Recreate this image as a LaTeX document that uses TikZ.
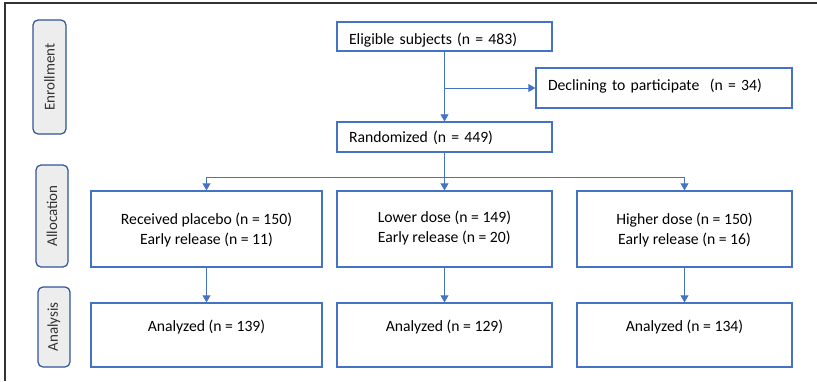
\documentclass[tikz,border=0pt]{standalone}
\usepackage{fontspec}
\setmainfont{Carlito}
\usetikzlibrary{arrows.meta,positioning}
\definecolor{boxblue}{HTML}{4472C4}
\definecolor{tagblue}{HTML}{2F5597}
\definecolor{tagfill}{HTML}{EDEDED}

\begin{document}
\begin{tikzpicture}[x=1pt,y=-1pt,
	box/.style={draw=boxblue,line width=1.3pt,inner sep=0pt,font=\fontsize{15.7}{20}\selectfont},
	tag/.style={draw=tagblue,fill=tagfill,line width=1.2pt,rounded corners=5pt,inner sep=0pt,rotate=90,font=\fontsize{15}{16}\selectfont,text=black!80},
	arr/.style={draw=boxblue,line width=0.8pt,-{Triangle[width=8pt,length=7pt]}}]
	\useasboundingbox (0,0) rectangle (817,381);
	% frame
	\draw[black!80,line width=1.5pt] (5,381) -- (5,3) -- (817,3);
	% phase tags
	\node[tag,minimum width=114pt,minimum height=33pt] (enr) at (49.5,77) {Enrollment};
	\node[tag,minimum width=102pt,minimum height=32pt] (alc) at (52,216) {Allocation};
	\node[tag,minimum width=80pt,minimum height=32pt] (ana) at (54,327) {Analysis};
	% enrollment
	\node[box,text width=191pt,inner xsep=12pt,align=left,minimum height=29pt,text height=15pt,text depth=0pt] (elig) at (444.5,36.5) {Eligible subjects (n = 483)};
	\node[box,text width=232pt,inner xsep=12pt,align=left,minimum height=40pt,text height=5pt,text depth=0pt] (decl) at (664,88) {Declining to participate\ \ (n = 34)};
	\node[box,text width=191pt,inner xsep=12pt,align=left,minimum height=30pt,text height=11pt,text depth=0pt] (rand) at (444.5,137) {Randomized (n = 449)};
	% allocation
	\node[box,minimum width=231pt,minimum height=76pt,align=center,text height=30pt,text depth=0pt] (plac) at (206.5,229) {Received placebo (n = 150)\\Early release (n = 11)};
	\node[box,minimum width=215pt,minimum height=76pt,align=left,text height=26.6pt,text depth=0pt] (low) at (444.5,229) {Lower dose (n = 149)\\Early release (n = 20)};
	\node[box,minimum width=215pt,minimum height=76pt,align=center,text height=30pt,text depth=0pt] (high) at (684.5,229) {Higher dose (n = 150)\\Early release (n = 16)};
	% analysis
	\node[box,minimum width=231pt,minimum height=64pt,text height=0pt,text depth=6.6pt] (anp) at (206.5,335) {Analyzed (n = 139)};
	\node[box,minimum width=215pt,minimum height=64pt,text height=0pt,text depth=6.6pt] (anl) at (444.5,335) {Analyzed (n = 129)};
	\node[box,minimum width=215pt,minimum height=64pt,text height=0pt,text depth=6.6pt] (anh) at (684.5,335) {Analyzed (n = 134)};
	% connectors
	\coordinate (split) at (elig.south |- decl.west);
	\coordinate (fork) at (444.5,177);
	\draw[arr] (elig) -- (rand);
	\draw[arr] (split) -- (decl);
	\draw[boxblue,line width=0.8pt] (rand) -- (fork);
	\draw[arr] (fork) -| (plac);
	\draw[arr] (fork) -- (low);
	\draw[arr] (fork) -| (high);
	\draw[arr] (plac) -- (anp);
	\draw[arr] (low) -- (anl);
	\draw[arr] (high) -- (anh);
\end{tikzpicture}
\end{document}
